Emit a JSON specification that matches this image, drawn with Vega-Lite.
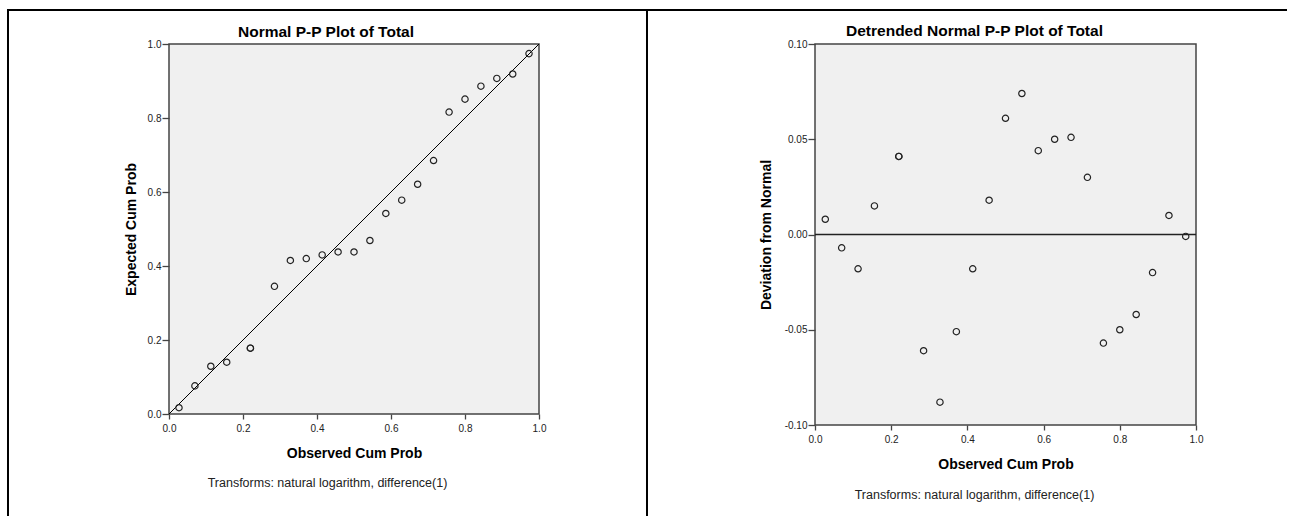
{
  "$schema": "https://vega.github.io/schema/vega-lite/v6.json",
  "padding": {"left": 5, "top": 8, "right": 0, "bottom": 0},
  "background": "white",
  "config": {
    "font": "Liberation Sans",
    "locale": {"number": {"decimal": ".", "thousands": ",", "grouping": [3], "currency": ["$", ""], "minus": "-"}},
    "view": {"fill": "#f0f0f0", "stroke": "#444444", "strokeWidth": 1.5},
    "axis": {"domain": false, "grid": false, "tickColor": "#444444", "tickWidth": 1.3, "labelFont": "Liberation Sans", "labelFontSize": 10, "labelColor": "#222222", "labelFlush": false, "titleFont": "Liberation Sans", "titleFontSize": 14, "titleFontWeight": "bold", "titleColor": "#000000"},
    "title": {"font": "Liberation Sans", "fontSize": 15.5, "fontWeight": "bold", "color": "#000000", "anchor": "middle", "frame": "group", "offset": -31}
  },
  "datasets": {
    "pp": [
      {"obs": 0.027, "expected": 0.017, "deviation": 0.008},
      {"obs": 0.070, "expected": 0.076, "deviation": -0.007},
      {"obs": 0.113, "expected": 0.129, "deviation": -0.018},
      {"obs": 0.156, "expected": 0.140, "deviation": 0.015},
      {"obs": 0.220, "expected": 0.178, "deviation": 0.041},
      {"obs": 0.220, "expected": 0.178, "deviation": 0.041},
      {"obs": 0.285, "expected": 0.345, "deviation": -0.061},
      {"obs": 0.328, "expected": 0.415, "deviation": -0.088},
      {"obs": 0.371, "expected": 0.420, "deviation": -0.051},
      {"obs": 0.414, "expected": 0.430, "deviation": -0.018},
      {"obs": 0.457, "expected": 0.438, "deviation": 0.018},
      {"obs": 0.500, "expected": 0.438, "deviation": 0.061},
      {"obs": 0.543, "expected": 0.469, "deviation": 0.074},
      {"obs": 0.586, "expected": 0.542, "deviation": 0.044},
      {"obs": 0.629, "expected": 0.578, "deviation": 0.050},
      {"obs": 0.672, "expected": 0.621, "deviation": 0.051},
      {"obs": 0.715, "expected": 0.685, "deviation": 0.030},
      {"obs": 0.757, "expected": 0.816, "deviation": -0.057},
      {"obs": 0.800, "expected": 0.851, "deviation": -0.050},
      {"obs": 0.843, "expected": 0.886, "deviation": -0.042},
      {"obs": 0.886, "expected": 0.907, "deviation": -0.020},
      {"obs": 0.929, "expected": 0.919, "deviation": 0.010},
      {"obs": 0.973, "expected": 0.974, "deviation": -0.001}
    ]
  },
  "bounds": "flush",
  "spacing": 276,
  "hconcat": [
    {
      "width": 370,
      "height": 370,
      "title": {"text": "Normal P-P Plot of Total", "dx": -28},
      "resolve": {"axis": {"x": "independent", "y": "independent"}},
      "layer": [
        {
          "data": {"values": [{"p": 0}, {"p": 1}]},
          "mark": {"type": "line", "color": "#000000", "strokeWidth": 1},
          "encoding": {
            "x": {"field": "p", "type": "quantitative", "scale": {"domain": [0, 1], "nice": false, "zero": false},
                  "axis": {"orient": "bottom", "title": "Transforms: natural logarithm, difference(1)", "domain": false, "ticks": false, "labels": false, "titleFontWeight": "normal", "titleFontSize": 12.5, "titleColor": "#222222", "titlePadding": 62, "titleX": 158}},
            "y": {"field": "p", "type": "quantitative", "scale": {"domain": [0, 1], "nice": false, "zero": false}, "axis": null}
          }
        },
        {
          "data": {"name": "pp"},
          "mark": {"type": "point", "shape": "circle", "filled": false, "size": 40, "color": "#222222", "strokeWidth": 1.2, "opacity": 1},
          "encoding": {
            "x": {"field": "obs", "type": "quantitative", "title": "Observed Cum Prob", "scale": {"domain": [0, 1], "nice": false, "zero": false},
                  "axis": {"orient": "bottom", "values": [0, 0.2, 0.4, 0.6, 0.8, 1], "format": ".1f", "tickSize": 5, "labelPadding": 4, "titlePadding": 13}},
            "y": {"field": "expected", "type": "quantitative", "title": "Expected Cum Prob", "scale": {"domain": [0, 1], "nice": false, "zero": false},
                  "axis": {"orient": "left", "values": [0, 0.2, 0.4, 0.6, 0.8, 1], "format": ".1f", "tickSize": 7, "labelPadding": 1, "titlePadding": 9}}
          }
        },
        {
          "data": {"values": [{}]},
          "mark": {"type": "rule", "color": "#000000", "strokeWidth": 2},
          "encoding": {
            "x": {"datum": -0.43784, "type": "quantitative", "scale": {"domain": [0, 1], "nice": false, "zero": false}, "axis": null},
            "x2": {"datum": 1.29459},
            "y": {"datum": 1.09189, "type": "quantitative", "scale": {"domain": [0, 1], "nice": false, "zero": false}, "axis": null}
          }
        },
        {
          "data": {"values": [{}]},
          "mark": {"type": "rule", "color": "#000000", "strokeWidth": 2},
          "encoding": {
            "x": {"datum": -0.43514, "type": "quantitative", "scale": {"domain": [0, 1], "nice": false, "zero": false}, "axis": null},
            "y": {"datum": 1.09189, "type": "quantitative", "scale": {"domain": [0, 1], "nice": false, "zero": false}, "axis": null},
            "y2": {"datum": -0.27568}
          }
        },
        {
          "data": {"values": [{}]},
          "mark": {"type": "rule", "color": "#000000", "strokeWidth": 2},
          "encoding": {
            "x": {"datum": 1.29189, "type": "quantitative", "scale": {"domain": [0, 1], "nice": false, "zero": false}, "axis": null},
            "y": {"datum": 1.09189, "type": "quantitative", "scale": {"domain": [0, 1], "nice": false, "zero": false}, "axis": null},
            "y2": {"datum": -0.27568}
          }
        }
      ]
    },
    {
      "width": 381,
      "height": 381,
      "title": {"text": "Detrended Normal P-P Plot of Total", "dx": -31},
      "resolve": {"axis": {"x": "independent", "y": "independent"}},
      "layer": [
        {
          "data": {"values": [{"baseline": 0}]},
          "mark": {"type": "rule", "color": "#222222", "strokeWidth": 1.4},
          "encoding": {
            "x": {"datum": 0, "type": "quantitative", "scale": {"domain": [0, 1], "nice": false, "zero": false},
                  "axis": {"orient": "bottom", "title": "Transforms: natural logarithm, difference(1)", "domain": false, "ticks": false, "labels": false, "titleFontWeight": "normal", "titleFontSize": 12.5, "titleColor": "#222222", "titlePadding": 63, "titleX": 159}},
            "x2": {"datum": 1},
            "y": {"field": "baseline", "type": "quantitative", "scale": {"domain": [-0.1, 0.1], "nice": false, "zero": false}, "axis": null}
          }
        },
        {
          "data": {"name": "pp"},
          "mark": {"type": "point", "shape": "circle", "filled": false, "size": 40, "color": "#222222", "strokeWidth": 1.2, "opacity": 1},
          "encoding": {
            "x": {"field": "obs", "type": "quantitative", "title": "Observed Cum Prob", "scale": {"domain": [0, 1], "nice": false, "zero": false},
                  "axis": {"orient": "bottom", "values": [0, 0.2, 0.4, 0.6, 0.8, 1], "format": ".1f", "tickSize": 5, "labelPadding": 4, "titlePadding": 13}},
            "y": {"field": "deviation", "type": "quantitative", "title": "Deviation from Normal", "scale": {"domain": [-0.1, 0.1], "nice": false, "zero": false},
                  "axis": {"orient": "left", "values": [-0.1, -0.05, 0, 0.05, 0.1], "format": ".2f", "tickSize": 7, "labelPadding": 1, "titlePadding": 11}}
          }
        },
        {
          "data": {"values": [{}]},
          "mark": {"type": "rule", "color": "#000000", "strokeWidth": 2},
          "encoding": {
            "x": {"datum": -0.44094, "type": "quantitative", "scale": {"domain": [0, 1], "nice": false, "zero": false}, "axis": null},
            "x2": {"datum": 1.23885},
            "y": {"datum": 0.117848, "type": "quantitative", "scale": {"domain": [-0.1, 0.1], "nice": false, "zero": false}, "axis": null}
          }
        }
      ]
    }
  ]
}
